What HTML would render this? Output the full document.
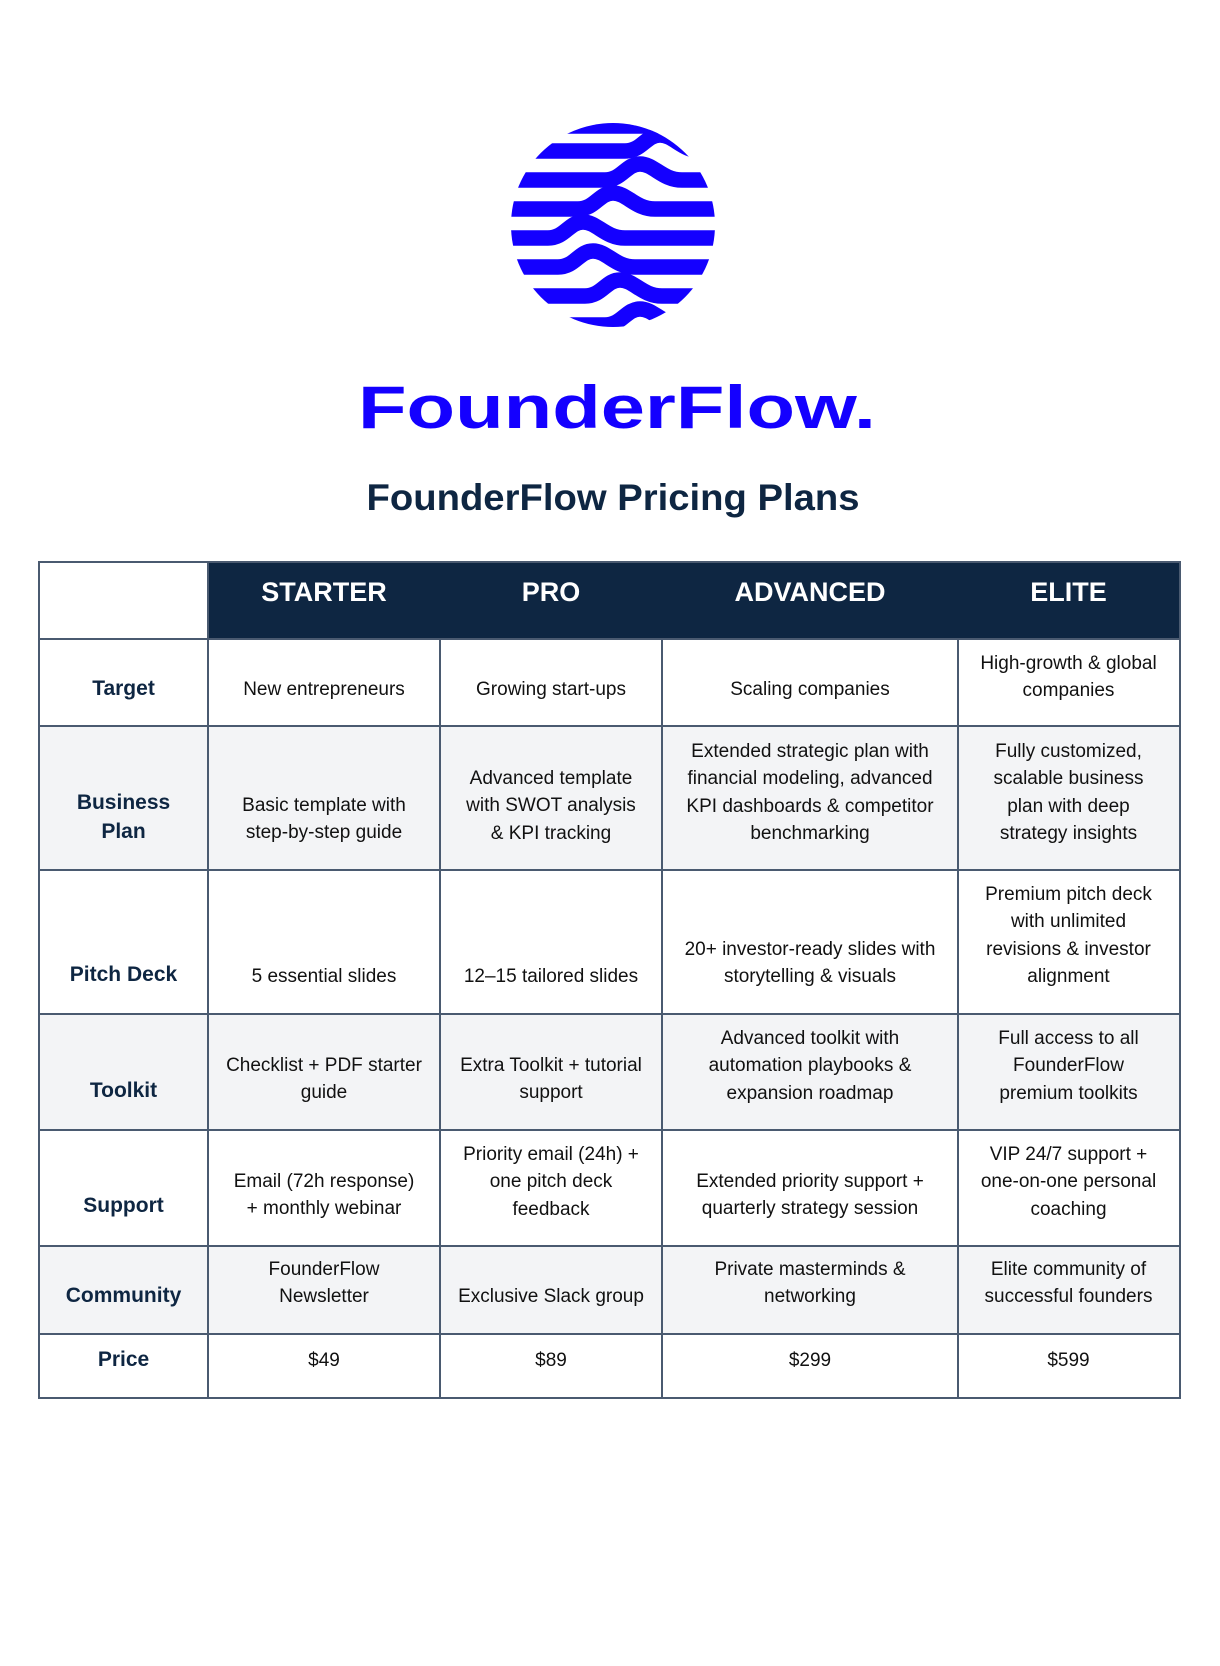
<!DOCTYPE html>
<html><head><meta charset="utf-8"><style>
*{margin:0;padding:0;box-sizing:border-box}
body{width:1220px;height:1666px;background:#fff;position:relative;overflow:hidden;font-family:"Liberation Sans",Arial,sans-serif}
.bg{position:absolute}
.h{position:absolute;background:#4a5a70;height:2px}
.v{position:absolute;background:#4a5a70;width:2px}
.t{position:absolute;text-align:center;font-size:19px;line-height:27.4px;color:#111}
.l{position:absolute;text-align:center;font-size:21px;line-height:29px;font-weight:bold;color:#0e2642}
.hd{position:absolute;text-align:center;font-size:27px;font-weight:bold;color:#fff;line-height:32px}
</style></head><body>

<svg style="position:absolute;left:0;top:0" width="1220" height="560">
<defs><clipPath id="c"><circle cx="613" cy="225" r="102"/></clipPath></defs>
<g clip-path="url(#c)" fill="none" stroke="#1400ff" stroke-width="15.5">
<path d="M500 126 H720"/>
<path d="M500 151 H625 C642 151 646 135 660 135 C674 135 682 151 702 151 H730"/>
<path d="M500 180 H605 C622 180 626 164 640 164 C654 164 662 180 682 180 H730"/>
<path d="M500 209 H578 C595 209 599 193 613 193 C627 193 635 209 655 209 H730"/>
<path d="M500 238 H548 C565 238 569 222 583 222 C597 222 605 238 625 238 H730"/>
<path d="M500 267 H558 C575 267 579 251 593 251 C607 251 615 267 635 267 H730"/>
<path d="M500 296 H585 C602 296 606 280 620 280 C634 280 642 296 662 296 H730"/>
<path d="M500 325 H605 C622 325 626 309 640 309 C654 309 662 325 682 325 H730"/>
</g>
<text x="358" y="428" textLength="518" lengthAdjust="spacingAndGlyphs" font-family="Liberation Sans, sans-serif" font-weight="bold" font-size="60" fill="#1400ff">FounderFlow.</text>
<text x="613" y="510" text-anchor="middle" textLength="493" lengthAdjust="spacingAndGlyphs" font-family="Liberation Sans, sans-serif" font-weight="bold" font-size="37" fill="#0e2642">FounderFlow Pricing Plans</text>
</svg>

<!-- backgrounds -->
<div class="bg" style="left:208px;top:562px;width:971px;height:77px;background:#0e2642"></div>
<div class="bg" style="left:39px;top:726px;width:1140px;height:144px;background:#f3f4f6"></div>
<div class="bg" style="left:39px;top:1014px;width:1140px;height:116px;background:#f3f4f6"></div>
<div class="bg" style="left:39px;top:1246px;width:1140px;height:88px;background:#f3f4f6"></div>

<!-- horizontal lines -->
<div class="h" style="left:39px;top:561px;width:1142px"></div>
<div class="h" style="left:39px;top:638px;width:1142px"></div>
<div class="h" style="left:39px;top:725px;width:1142px"></div>
<div class="h" style="left:39px;top:869px;width:1142px"></div>
<div class="h" style="left:39px;top:1013px;width:1142px"></div>
<div class="h" style="left:39px;top:1129px;width:1142px"></div>
<div class="h" style="left:39px;top:1245px;width:1142px"></div>
<div class="h" style="left:39px;top:1333px;width:1142px"></div>
<div class="h" style="left:39px;top:1397px;width:1142px"></div>
<!-- vertical lines -->
<div class="v" style="left:38px;top:561px;height:838px"></div>
<div class="v" style="left:207px;top:561px;height:838px"></div>
<div class="v" style="left:439px;top:639px;height:760px"></div>
<div class="v" style="left:661px;top:639px;height:760px"></div>
<div class="v" style="left:957px;top:639px;height:760px"></div>
<div class="v" style="left:1179px;top:561px;height:838px"></div>

<!-- header -->
<div class="hd" style="left:208px;width:232px;top:576px">STARTER</div>
<div class="hd" style="left:440px;width:222px;top:576px">PRO</div>
<div class="hd" style="left:662px;width:296px;top:576px">ADVANCED</div>
<div class="hd" style="left:958px;width:221px;top:576px">ELITE</div>

<!-- labels -->
<div class="l" style="left:39px;width:169px;top:674px">Target</div>
<div class="l" style="left:39px;width:169px;top:788px">Business<br>Plan</div>
<div class="l" style="left:39px;width:169px;top:960px">Pitch Deck</div>
<div class="l" style="left:39px;width:169px;top:1076px">Toolkit</div>
<div class="l" style="left:39px;width:169px;top:1191px">Support</div>
<div class="l" style="left:39px;width:169px;top:1281px">Community</div>
<div class="l" style="left:39px;width:169px;top:1345px">Price</div>

<!-- Target -->
<div class="t" style="left:208px;width:232px;top:676px">New entrepreneurs</div>
<div class="t" style="left:440px;width:222px;top:676px">Growing start-ups</div>
<div class="t" style="left:662px;width:296px;top:676px">Scaling companies</div>
<div class="t" style="left:958px;width:221px;top:650px">High-growth &amp; global<br>companies</div>
<!-- BP -->
<div class="t" style="left:208px;width:232px;top:792px">Basic template with<br>step-by-step guide</div>
<div class="t" style="left:440px;width:222px;top:765px">Advanced template<br>with SWOT analysis<br>&amp; KPI tracking</div>
<div class="t" style="left:662px;width:296px;top:738px">Extended strategic plan with<br>financial modeling, advanced<br>KPI dashboards &amp; competitor<br>benchmarking</div>
<div class="t" style="left:958px;width:221px;top:738px">Fully customized,<br>scalable business<br>plan with deep<br>strategy insights</div>
<!-- Pitch -->
<div class="t" style="left:208px;width:232px;top:963px">5 essential slides</div>
<div class="t" style="left:440px;width:222px;top:963px">12–15 tailored slides</div>
<div class="t" style="left:662px;width:296px;top:936px">20+ investor-ready slides with<br>storytelling &amp; visuals</div>
<div class="t" style="left:958px;width:221px;top:881px">Premium pitch deck<br>with unlimited<br>revisions &amp; investor<br>alignment</div>
<!-- Toolkit -->
<div class="t" style="left:208px;width:232px;top:1052px">Checklist + PDF starter<br>guide</div>
<div class="t" style="left:440px;width:222px;top:1052px">Extra Toolkit + tutorial<br>support</div>
<div class="t" style="left:662px;width:296px;top:1025px">Advanced toolkit with<br>automation playbooks &amp;<br>expansion roadmap</div>
<div class="t" style="left:958px;width:221px;top:1025px">Full access to all<br>FounderFlow<br>premium toolkits</div>
<!-- Support -->
<div class="t" style="left:208px;width:232px;top:1168px">Email (72h response)<br>+ monthly webinar</div>
<div class="t" style="left:440px;width:222px;top:1141px">Priority email (24h) +<br>one pitch deck<br>feedback</div>
<div class="t" style="left:662px;width:296px;top:1168px">Extended priority support +<br>quarterly strategy session</div>
<div class="t" style="left:958px;width:221px;top:1141px">VIP 24/7 support +<br>one-on-one personal<br>coaching</div>
<!-- Community -->
<div class="t" style="left:208px;width:232px;top:1256px">FounderFlow<br>Newsletter</div>
<div class="t" style="left:440px;width:222px;top:1283px">Exclusive Slack group</div>
<div class="t" style="left:662px;width:296px;top:1256px">Private masterminds &amp;<br>networking</div>
<div class="t" style="left:958px;width:221px;top:1256px">Elite community of<br>successful founders</div>
<!-- Price -->
<div class="t" style="left:208px;width:232px;top:1347px">$49</div>
<div class="t" style="left:440px;width:222px;top:1347px">$89</div>
<div class="t" style="left:662px;width:296px;top:1347px">$299</div>
<div class="t" style="left:958px;width:221px;top:1347px">$599</div>
</body></html>
